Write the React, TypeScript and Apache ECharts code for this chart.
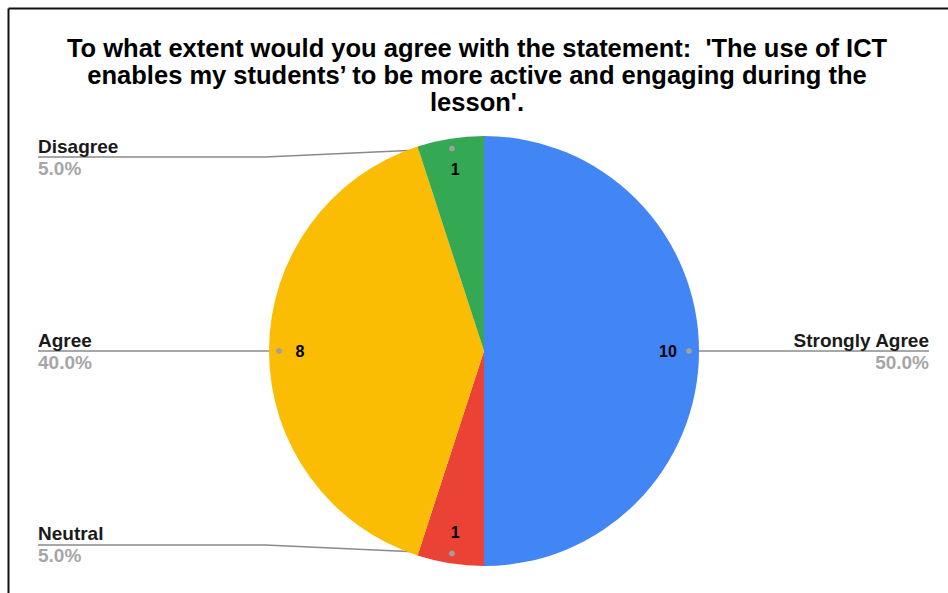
import React, { useEffect, useRef } from "react";
import * as echarts from "echarts";

const categories = ["Strongly Agree", "Neutral", "Agree", "Disagree"];
const values = [10, 1, 8, 1];
const colors = ["#4285F4", "#EA4335", "#FBBC04", "#34A853"];
const titleLines = [
  "To what extent would you agree with the statement:  'The use of ICT",
  "enables my students’ to be more active and engaging during the",
  "lesson'.",
];

const CX = 484;
const CY = 351;
const R = 215;
const R_DOT = 205;
const LEFT_EDGE = 38;
const RIGHT_EDGE = 929;
const LEFT_BEND = 265;
const RIGHT_BEND = 703;
const FONT = "Liberation Sans, Arial, sans-serif";

export default function App() {
  const ref = useRef<HTMLDivElement>(null);
  useEffect(() => {
    const chart = echarts.init(ref.current!, null, { renderer: "svg" });
    const data = categories.map((name, i) => ({
      name,
      value: values[i],
      itemStyle: { color: colors[i] },
    }));
    const ghost = categories.map((name, i) => ({
      name,
      value: values[i],
      itemStyle: { color: "rgba(0,0,0,0)" },
    }));
    const total = values.reduce((a, b) => a + b, 0);
    let acc = 0;
    const dots = values.map((v) => {
      const mid = ((acc + v / 2) / total) * Math.PI * 2;
      acc += v;
      return {
        type: "circle",
        silent: true,
        z: 100,
        shape: { cx: CX + R_DOT * Math.sin(mid), cy: CY - R_DOT * Math.cos(mid), r: 3 },
        style: { fill: "#a0a0a0" },
      };
    });
    chart.setOption({
      animation: false,
      title: {
        text: titleLines.join("\n"),
        left: 477,
        top: 34,
        padding: 0,
        textAlign: "center",
        textStyle: {
          fontFamily: FONT,
          fontSize: 25.5,
          lineHeight: 27,
          fontWeight: "bold",
          color: "#000",
        },
      },
      graphic: [
        { type: "line", silent: true, shape: { x1: 8.5, y1: 8.5, x2: 948, y2: 8.5 }, style: { stroke: "#111", lineWidth: 2 } },
        { type: "line", silent: true, shape: { x1: 8.5, y1: 8.5, x2: 8.5, y2: 593 }, style: { stroke: "#111", lineWidth: 2 } },
        ...dots,
      ],
      series: [
        {
          type: "pie",
          silent: true,
          center: [CX, CY],
          radius: R,
          startAngle: 90,
          clockwise: true,
          label: { show: false },
          labelLine: { show: false },
          emphasis: { disabled: true },
          data,
        },
        {
          type: "pie",
          silent: true,
          center: [CX, CY],
          radius: [147, R],
          startAngle: 90,
          clockwise: true,
          label: {
            show: true,
            position: "inside",
            formatter: "{c}",
            fontFamily: FONT,
            fontSize: 16,
            fontWeight: "bold",
            color: "#000",
          },
          labelLine: { show: false },
          emphasis: { disabled: true },
          data: ghost,
        },
        {
          type: "pie",
          silent: true,
          center: [CX, CY],
          radius: R_DOT,
          startAngle: 90,
          clockwise: true,
          avoidLabelOverlap: false,
          label: {
            show: true,
            position: "outside",
            formatter: (p: any) => `{n|${p.name}}\n{p|${p.percent.toFixed(1)}%}`,
            rich: {
              n: { fontFamily: FONT, fontSize: 19, fontWeight: "bold", color: "#1a1a1a", lineHeight: 22 },
              p: { fontFamily: FONT, fontSize: 19, fontWeight: "bold", color: "#a6a6a6", lineHeight: 22 },
            },
          },
          labelLine: {
            show: true,
            length: 5,
            length2: 10,
            lineStyle: { color: "#8a8a8a", width: 1.3 },
          },
          labelLayout: (p: any) => {
            const pts = p.labelLinePoints;
            if (!pts) return {};
            const sx = pts[0][0];
            const sy = pts[0][1];
            const left = sx < CX;
            const dy = sy - CY;
            const ly = Math.abs(dy) > 150 ? sy - Math.sign(dy) * 8.5 : sy;
            const edge = left ? LEFT_EDGE : RIGHT_EDGE;
            const bend = left ? LEFT_BEND : RIGHT_BEND;
            return {
              x: edge,
              y: ly,
              align: left ? "left" : "right",
              verticalAlign: "middle",
              labelLinePoints: [
                [sx, sy],
                [bend, ly],
                [edge, ly],
              ],
            };
          },
          emphasis: { disabled: true },
          data: ghost,
        },
      ],
    });
    return () => chart.dispose();
  }, []);
  return (
    <div
      ref={ref}
      style={{ position: "absolute", left: 0, top: 0, width: 948, height: 593, background: "#fff" }}
    />
  );
}
